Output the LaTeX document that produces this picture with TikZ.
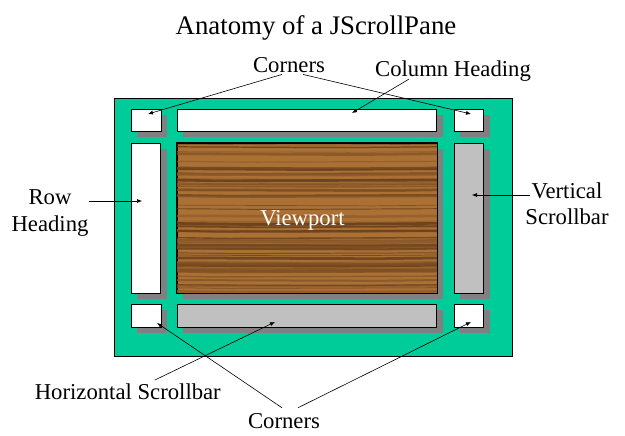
\documentclass[tikz,border=0pt]{standalone}
\usepackage{fontspec}
\setmainfont{Liberation Serif}
\usetikzlibrary{arrows.meta, shadows}

\definecolor{paneGreen}{RGB}{0,204,153}
\definecolor{shadowGray}{RGB}{128,128,128}
\definecolor{barGray}{RGB}{192,192,192}
\definecolor{woodLight}{RGB}{170,112,52}
\definecolor{woodDark}{RGB}{92,54,22}

\tikzset{
  part/.style={draw, line width=0.9pt, inner sep=0pt,
    general shadow={fill=shadowGray, shadow xshift=6pt, shadow yshift=-6pt}},
  label/.style={inner sep=0pt, font=\fontsize{22.7}{27}\selectfont, align=center},
  ptr/.style={-{Latex[length=5pt,width=4pt]}, line width=0.6pt}
}

\begin{document}
\begin{tikzpicture}[x=1pt, y=-1pt]
    \useasboundingbox[fill=white] (0,0) rectangle (625,436);

    % Title
    \node[anchor=base, inner sep=0pt, font=\fontsize{26.8}{32}\selectfont] (title) at (316,35) {Anatomy of a JScrollPane};

    % Pane
    \node[draw, line width=0.9pt, fill=paneGreen, minimum width=398pt, minimum height=258pt, inner sep=0pt] (pane) at (313,227) {};

    % Parts
    \node[part, fill=white, minimum width=30pt, minimum height=22pt] (tl) at (146,120) {};
    \node[part, fill=white, minimum width=259.5pt, minimum height=22pt] (colh) at (306.75,120) {};
    \node[part, fill=white, minimum width=29.5pt, minimum height=22pt] (tr) at (468.75,120) {};
    \node[part, fill=white, minimum width=29.5pt, minimum height=150pt] (rowh) at (145.75,218) {};
    \node[part, fill=woodLight, minimum width=260pt, minimum height=150pt] (view) at (307,218) {};
    \node[part, fill=barGray, minimum width=29.5pt, minimum height=150pt] (vbar) at (468.75,218) {};
    \node[part, fill=white, minimum width=30pt, minimum height=23pt] (bl) at (146,315.5) {};
    \node[part, fill=barGray, minimum width=259.5pt, minimum height=23pt] (hbar) at (306.75,315.5) {};
    \node[part, fill=white, minimum width=29.5pt, minimum height=23pt] (br) at (468.75,315.5) {};

    % Wood grain
    \begin{scope}
        \clip (view.north west) rectangle (view.south east);
        \pgfmathsetseed{17}
        \foreach \i in {1,...,70}{
            \pgfmathsetmacro\yy{143+150*rnd}
            \pgfmathsetmacro\ww{0.6+2.2*rnd}
            \pgfmathsetmacro\mx{int(15+85*rnd)}
            \pgfmathsetmacro\xa{200+200*rnd}
            \draw[line width=\ww pt, woodDark!\mx!woodLight, opacity=0.8] (177,\yy) -- (\xa,\yy+0.8) -- (437,\yy);
        }
    \end{scope}
    \draw[line width=0.9pt] (view.north west) rectangle (view.south east);
    \node[inner sep=0pt, white, font=\fontsize{22.7}{27}\selectfont] (viewlbl) at (302.5,220) {Viewport};

    % Labels
    \node[label, anchor=base] (cornersT) at (289,73) {Corners};
    \node[label, anchor=base] (colhead) at (453,77) {Column Heading};
    \node[label, anchor=base] (rowhead) at (50,231.5) {Row\\Heading};
    \node[label, anchor=base] (vscroll) at (567,225) {Vertical\\Scrollbar};
    \node[label, anchor=base] (hscroll) at (127.8,399) {Horizontal Scrollbar};
    \node[label, anchor=base] (cornersB) at (284,428) {Corners};

    % Arrow tips
    \coordinate (tipTL) at (148,114);
    \coordinate (tipTR) at (471,114);
    \coordinate (tipCol) at (352,113);
    \coordinate (tipRow) at (142,201);
    \coordinate (tipV) at (472,195);
    \coordinate (tipH) at (275,322);
    \coordinate (tipBL) at (157,323);
    \coordinate (tipBR) at (471,322);

    % Arrows
    \draw[ptr] ([xshift=-7pt,yshift=-1pt]cornersT.south) -- (tipTL);
    \draw[ptr] ([xshift=14pt,yshift=-1pt]cornersT.south) -- (tipTR);
    \draw[ptr] ([xshift=-44pt,yshift=3pt]colhead.south) -- (tipCol);
    \draw[ptr] (rowhead.east |- tipRow) -- (tipRow);
    \draw[ptr] ([xshift=5pt]vscroll.west |- tipV) -- (tipV);
    \draw[ptr] ([xshift=27pt,yshift=3pt]hscroll.north) -- (tipH);
    \draw[ptr] ([xshift=-2pt,yshift=5pt]cornersB.north) -- (tipBL);
    \draw[ptr] ([xshift=14pt,yshift=5pt]cornersB.north) -- (tipBR);
\end{tikzpicture}
\end{document}
